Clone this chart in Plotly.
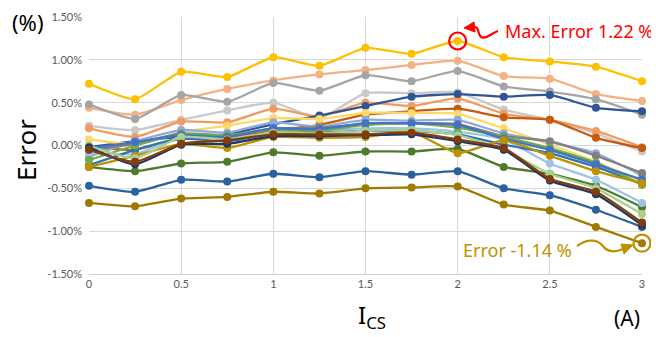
import plotly.graph_objects as go

current_a = [0, 0.25, 0.5, 0.75, 1, 1.25, 1.5, 1.75, 2, 2.25, 2.5, 2.75, 3]

# Error values in percent, one list per series
s_gold       = [0.72, 0.54, 0.86, 0.80, 1.03, 0.93, 1.14, 1.07, 1.22, 1.03, 0.98, 0.92, 0.75]
s_peach      = [0.44, 0.36, 0.53, 0.66, 0.76, 0.83, 0.88, 0.94, 0.99, 0.81, 0.78, 0.60, 0.52]
s_gray       = [0.48, 0.31, 0.59, 0.51, 0.73, 0.64, 0.82, 0.75, 0.87, 0.69, 0.63, 0.54, 0.36]
s_lightgray  = [0.23, 0.18, 0.30, 0.41, 0.50, 0.32, 0.61, 0.61, 0.62, 0.42, 0.30, 0.14, -0.07]
s_medorange  = [0.20, 0.10, 0.28, 0.27, 0.43, 0.34, 0.50, 0.46, 0.55, 0.37, 0.30, 0.17, -0.02]
s_darkorange = [-0.02, -0.05, 0.08, 0.10, 0.17, 0.24, 0.36, 0.40, 0.43, 0.33, 0.30, 0.09, -0.03]
s_darkblue   = [-0.02, 0.05, 0.10, 0.13, 0.25, 0.35, 0.46, 0.57, 0.60, 0.57, 0.59, 0.44, 0.40]
s_ltyellow   = [0.07, 0.02, 0.16, 0.23, 0.32, 0.31, 0.38, 0.38, 0.37, 0.20, 0.01, -0.19, -0.42]
s_periwinkle = [-0.13, 0.05, 0.18, 0.15, 0.27, 0.22, 0.30, 0.29, 0.30, 0.14, 0.04, -0.09, -0.35]
s_darkgray   = [-0.05, 0.02, 0.14, 0.12, 0.20, 0.21, 0.25, 0.26, 0.25, 0.11, 0.05, -0.12, -0.32]
s_lightblue  = [-0.08, -0.10, 0.10, 0.08, 0.15, 0.18, 0.20, 0.20, 0.16, 0.07, -0.21, -0.40, -0.67]
s_medblue    = [-0.23, -0.05, 0.08, 0.05, 0.14, 0.15, 0.17, 0.17, 0.13, 0.01, -0.09, -0.25, -0.45]
s_green      = [-0.17, 0.00, 0.13, 0.12, 0.18, 0.17, 0.24, 0.26, 0.21, 0.10, -0.03, -0.20, -0.46]
s_blue       = [-0.03, 0.04, 0.12, 0.10, 0.20, 0.19, 0.26, 0.26, 0.24, 0.08, -0.05, -0.22, -0.40]
s_darkgold   = [-0.25, -0.12, 0.02, -0.03, 0.10, 0.09, 0.10, 0.16, -0.09, 0.06, -0.12, -0.30, -0.44]
s_lightgreen = [0.00, -0.15, 0.10, 0.07, 0.15, 0.14, 0.17, 0.18, 0.12, -0.05, -0.33, -0.50, -0.80]
s_navy       = [-0.02, -0.22, 0.01, 0.02, 0.11, 0.11, 0.12, 0.13, 0.05, -0.05, -0.41, -0.57, -0.93]
s_brown      = [-0.05, -0.19, 0.02, 0.06, 0.13, 0.13, 0.13, 0.15, 0.07, -0.03, -0.39, -0.54, -0.90]
s_darkgreen  = [-0.25, -0.30, -0.21, -0.19, -0.08, -0.12, -0.07, -0.07, -0.04, -0.25, -0.33, -0.47, -0.72]
s_steelblue  = [-0.47, -0.54, -0.40, -0.42, -0.33, -0.37, -0.30, -0.34, -0.30, -0.50, -0.58, -0.75, -0.95]
s_bottomgold = [-0.67, -0.71, -0.62, -0.60, -0.54, -0.56, -0.50, -0.49, -0.48, -0.69, -0.76, -0.95, -1.14]

y_ticks = [-1.5, -1.0, -0.5, 0.0, 0.5, 1.0, 1.5]
y_tick_labels = ["-1.50%", "-1.00%", "-0.50%", "0.00%", "0.50%", "1.00%", "1.50%"]
x_ticks = [0, 0.5, 1, 1.5, 2, 2.5, 3]
x_tick_labels = ["0", "0.5", "1", "1.5", "2", "2.5", "3"]

max_label = "Max. Error 1.22 %"
min_label = "Error -1.14 %"

series = [
    (s_bottomgold, "#A07A00"),
    (s_steelblue, "#2A62A0"),
    (s_darkgreen, "#4E7A2E"),
    (s_gold, "#FFC000"),
    (s_peach, "#F4B183"),
    (s_gray, "#A5A5A5"),
    (s_lightgray, "#C9C9C9"),
    (s_medorange, "#F29B61"),
    (s_darkorange, "#C55A11"),
    (s_darkblue, "#2F5597"),
    (s_ltyellow, "#FFD966"),
    (s_periwinkle, "#8FAADC"),
    (s_darkgray, "#7F7F7F"),
    (s_lightblue, "#9DC3E6"),
    (s_medblue, "#2E75B6"),
    (s_green, "#70AD47"),
    (s_blue, "#4472C4"),
    (s_darkgold, "#BF9000"),
    (s_lightgreen, "#A9D18E"),
    (s_navy, "#203864"),
    (s_brown, "#843C0C"),
]

X_RANGE = [0, 3]
Y_RANGE = [-1.5, 1.5]

fig = go.Figure()
for vals, col in series:
    fig.add_trace(go.Scatter(
        x=current_a, y=vals, mode="lines+markers",
        line=dict(color=col, width=2.3, shape="spline", smoothing=0.5),
        marker=dict(color=col, size=8),
        cliponaxis=False, showlegend=False, hoverinfo="skip"))

# the page body adds an 8 px offset; lay out in screen pixels
OFF = 8
SW, SH = 659, 337
W, H = SW - OFF, SH - OFF
PL, PR, PT, PB = 89, 642, 17, 274          # plot area in screen pixels
L, T = PL - OFF, PT - OFF
R, B = W - (PR - OFF), H - (PB - OFF)
pw, ph = W - L - R, H - T - B


def px(x):
    return (x - PL) / pw


def py(y):
    return (PB - y) / ph


fig.update_layout(
    width=W, height=H,
    margin=dict(l=L, r=R, t=T, b=B, autoexpand=False),
    paper_bgcolor="white", plot_bgcolor="white",
    font=dict(family="Lato, Liberation Sans, sans-serif", color="#595959", size=11),
    xaxis=dict(range=X_RANGE, tickvals=x_ticks, ticktext=x_tick_labels,
               showgrid=True, gridcolor="#D9D9D9", gridwidth=1, automargin=False,
               zeroline=False, showline=True, linecolor="#D0D0D0", linewidth=1,
               ticks="", tickfont=dict(size=11, color="#595959")),
    yaxis=dict(range=Y_RANGE, tickvals=y_ticks, ticktext=y_tick_labels,
               showgrid=True, gridcolor="#D9D9D9", gridwidth=1, automargin=False,
               zeroline=False, showline=False, ticks="",
               ticklabelstandoff=6,
               tickfont=dict(size=11, color="#595959")),
)

big = "Noto Sans, Open Sans, sans-serif"
anns = [
    dict(x=px(27), y=py(22), text="(%)", font=dict(size=22, color="black", family=big)),
    dict(x=px(26), y=py(150), text="Error", textangle=-90, font=dict(size=26, color="black", family=big)),
    dict(x=px(372), y=py(316), text="I<sub>CS</sub>", font=dict(size=24, color="black", family=big)),
    dict(x=px(627), y=py(318), text="(A)", font=dict(size=21, color="black", family=big)),
    dict(x=px(579), y=py(31), text=max_label, font=dict(size=18, color="#FF0000", family=big)),
    dict(x=px(517), y=py(250), text=min_label, font=dict(size=18, color="#BF9000", family=big)),
]
for a in anns:
    a.update(xref="paper", yref="paper", showarrow=False, xanchor="center", yanchor="middle")
    fig.add_annotation(**a)


def poly(points, close=False):
    p = "M " + " L ".join("{:.4f},{:.4f}".format(px(x), py(y)) for x, y in points)
    return p + (" Z" if close else "")


def wave(points):
    p = "M {:.4f},{:.4f}".format(px(points[0][0]), py(points[0][1]))
    for i in range(1, len(points), 3):
        c1, c2, e = points[i], points[i + 1], points[i + 2]
        p += " C {:.4f},{:.4f} {:.4f},{:.4f} {:.4f},{:.4f}".format(
            px(c1[0]), py(c1[1]), px(c2[0]), py(c2[1]), px(e[0]), py(e[1]))
    return p


# wavy callout lines
fig.add_shape(type="path", xref="paper", yref="paper",
              path=wave([(498, 31), (492, 33), (485, 40), (481, 37),
                         (477, 34), (480, 26), (473, 27)]),
              line=dict(color="#FF0000", width=2.2))
fig.add_shape(type="path", xref="paper", yref="paper",
              path=wave([(577, 246), (585, 240), (596, 238), (602, 245),
                         (607, 252), (614, 253), (623, 249)]),
              line=dict(color="#BF9000", width=2.2))
# arrowheads
fig.add_shape(type="path", xref="paper", yref="paper",
              path=poly([(464, 28), (474, 22), (475, 32)], close=True),
              fillcolor="#FF0000", line=dict(color="#FF0000", width=1))
fig.add_shape(type="path", xref="paper", yref="paper",
              path=poly([(633, 245), (621, 244), (624, 254)], close=True),
              fillcolor="#BF9000", line=dict(color="#BF9000", width=1))


def to_paper_x(v):
    return (v - X_RANGE[0]) / (X_RANGE[1] - X_RANGE[0])


def to_paper_y(v):
    return (v - Y_RANGE[0]) / (Y_RANGE[1] - Y_RANGE[0])


# highlight circles anchored to the extreme data points
for xi, yi, col in [(current_a[8], s_gold[8], "#FF0000"),
                    (current_a[12], s_bottomgold[12], "#BF9000")]:
    fig.add_shape(type="circle", xref="paper", yref="paper",
                  xsizemode="pixel", ysizemode="pixel",
                  xanchor=to_paper_x(xi), yanchor=to_paper_y(yi),
                  x0=-8.5, x1=8.5, y0=-8.5, y1=8.5, line=dict(color=col, width=2.2))

fig.write_html("out.html")
